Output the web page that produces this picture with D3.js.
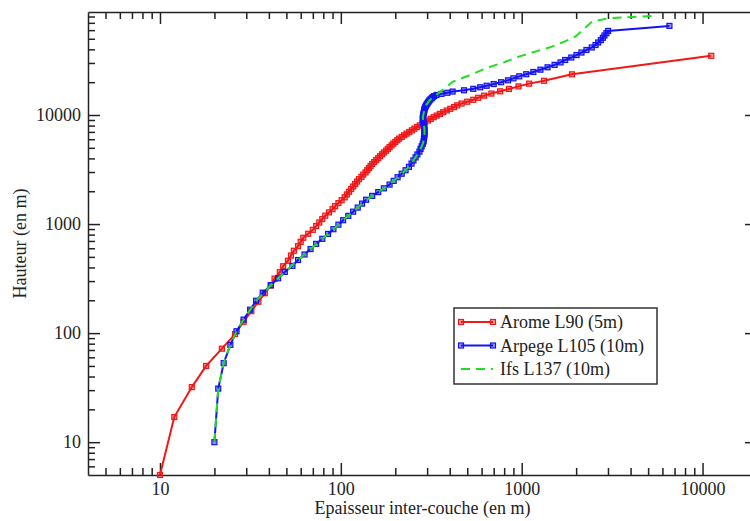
<!DOCTYPE html>
<meta charset="utf-8">
<style>
body{ margin:0; background:#fff; }
svg text{ font-family:"Liberation Serif","DejaVu Serif",serif; font-size:18px; fill:#222; }
.axis path, .axis line{ stroke:#222; stroke-width:1.5; }
</style>
<body>
<script src="https://d3js.org/d3.v7.min.js"></script>
<script>
// Arome L90 (5m): layer thickness (m) vs height (m)
const aromeThick = [10,12,15,18,22,26,29,32,35,38,41,43,46,48,51,53,55,58,60,62,
    66,70,73,76,79,82,86,90,93,97,101,105,108,111,114,117,120,123,126,130,
    133,137,140,143,146,149,153,157,161,165,169,173,178,182,186,191,195,200,205,210,
    217,224,231,239,247,255,264,273,282,292,303,314,326,339,353,368,385,403,423,440,
    465,500,540,575,620,680,760,850,960,1100,1330,1897,11170];
const aromeHeight = [5,17,32,50,72,98,127,159,194,232,273,316,362,410,461,514,569,627,687,749,
    814,885,958,1033,1112,1194,1279,1368,1460,1556,1656,1760,1868,1979,2093,2210,2330,2453,2579,2708,
    2841,2977,3117,3260,3406,3555,3708,3865,4026,4191,4360,4533,4710,4892,5078,5268,5463,5663,5868,6078,
    6295,6519,6750,6989,7236,7491,7755,8028,8310,8602,8905,9219,9545,9884,10237,10605,10990,11393,11816,12262,
    12735,13240,13785,14380,15040,15720,16480,17330,18290,19390,20600,23600,34900];

// Arpege L105 (10m)
const arpegeThick = [20,21,22.5,24.5,26.5,29,31.5,34,37,41,45,49,54,58,63,68,73,79,85,91,
    97,103,110,117,124,131,138,149,161,173,186,196,206,217,228,238,246,252,259,265,
    272,276,280,284,287,288,289,290,290,290,290,289,288,287,286,285,284,284,285,286,
    287,288,289,290,291,293,295,297,300,303,306,309,313,318,322,328,338,360,388,415,
    480,540,590,640,700,770,840,900,970,1060,1160,1270,1390,1520,1640,1740,1880,2010,2140,2280,
    2440,2560,2650,2740,2810,2870,2940,3006,6560];
const arpegeHeight = [10,31,53,78,104,133,164,198,235,275,318,364,414,468,526,590,658,732,812,897,
    988,1085,1189,1299,1416,1540,1671,1812,1963,2126,2301,2489,2687,2895,3115,3345,3585,3833,4087,4348,
    4615,4890,5168,5450,5735,6023,6312,6602,6893,7184,7475,7765,8055,8343,8630,8916,9201,9485,9770,10055,
    10340,10630,10920,11210,11500,11795,12090,12390,12690,12995,13300,13610,13925,14245,14570,14905,15250,15620,16000,16400,
    16850,17380,17950,18540,19230,19980,20800,21680,22620,23660,24800,26040,27380,28820,30350,31950,33650,35470,37400,39450,
    41600,43850,46200,48600,51050,53600,56250,59000,65600];

// Ifs L137 (10m), dashed line
const ifsThick = [20,21,22.5,24.5,26.5,29,34,41,49,58,68,79,91,103,117,131,149,173,196,217,
    238,252,265,276,284,288,290,290,289,287,285,284,286,288,290,293,297,303,309,318,
    332,375,415,520,634,800,962,1200,1472,1720,1982,2449,3000,5300];
const ifsHeight = [10,31,53,78,104,133,198,275,364,468,590,732,897,1085,1299,1540,1812,2126,2489,2895,
    3345,3833,4348,4890,5450,6023,6602,7184,7765,8343,8916,9485,10055,10630,11210,11795,12390,12995,13610,14245,
    15000,17500,20170,23300,26790,30500,34270,38300,42350,47000,52270,71760,77000,81000];

const xMajor = [10, 100, 1000, 10000];
const xMinor = [5,6,7,8,9, 20,30,40,50,60,70,80,90, 200,300,400,500,600,700,800,900,
    2000,3000,4000,5000,6000,7000,8000,9000];
const yMajor = [10, 100, 1000, 10000];
const yMinor = [6,7,8,9, 20,30,40,50,60,70,80,90, 200,300,400,500,600,700,800,900,
    2000,3000,4000,5000,6000,7000,8000,9000, 20000,30000,40000,50000,60000,70000,80000];

const seriesNames = ["Arome L90 (5m)", "Arpege L105 (10m)", "Ifs L137 (10m)"];
const seriesColors = ["#f01818", "#1414f0", "#22dd22"];

const width = 750, height = 521;
const pLeft = 88, pRight = 757, pTop = 12, pBottom = 475;

const x = d3.scaleLog().domain([4, 20000]).range([pLeft, pRight]);
const y = d3.scaleLog().domain([5, 88000]).range([pBottom, pTop]);

const svg = d3.select("body").append("svg")
    .attr("width", width)
    .attr("height", height);

// axes: major + minor ticks on all four sides, pointing inward
function addAxis(axis, tr, vals, size, labels){
    const g = svg.append("g")
        .attr("class", "axis")
        .attr("transform", tr)
        .call(axis.tickValues(vals).tickSize(size).tickSizeOuter(0)
            .tickPadding(7)
            .tickFormat(labels ? d3.format("d") : ""));
    g.selectAll("text").style("font-size", "18px").attr("fill", "#222");
    return g;
}
addAxis(d3.axisBottom(x), `translate(0,${pBottom})`, xMajor, -12, true);
addAxis(d3.axisBottom(x), `translate(0,${pBottom})`, xMinor, -7, false).select(".domain").remove();
addAxis(d3.axisTop(x), `translate(0,${pTop})`, xMajor, -12, false);
addAxis(d3.axisTop(x), `translate(0,${pTop})`, xMinor, -7, false).select(".domain").remove();
addAxis(d3.axisLeft(y), `translate(${pLeft},0)`, yMajor, -12, true);
addAxis(d3.axisLeft(y), `translate(${pLeft},0)`, yMinor, -7, false).select(".domain").remove();
addAxis(d3.axisRight(y), `translate(${pRight},0)`, yMajor, -12, false);
addAxis(d3.axisRight(y), `translate(${pRight},0)`, yMinor, -7, false).select(".domain").remove();

// axis titles
svg.append("text")
    .attr("x", (pLeft + pRight) / 2)
    .attr("y", 514)
    .attr("text-anchor", "middle")
    .text("Epaisseur inter-couche (en m)");
svg.append("text")
    .attr("transform", `translate(26,${(pTop + pBottom) / 2}) rotate(-90)`)
    .attr("text-anchor", "middle")
    .text("Hauteur (en m)");

const line = d3.line()
    .x(d => x(d[0]))
    .y(d => y(d[1]));

const series = [
    { data: d3.zip(aromeThick, aromeHeight), marks: true, dash: null },
    { data: d3.zip(arpegeThick, arpegeHeight), marks: true, dash: null },
    { data: d3.zip(ifsThick, ifsHeight), marks: false, dash: "9,6" }
];

function marker(sel, color){
    sel.attr("width", 5)
        .attr("height", 5)
        .attr("fill", color)
        .attr("fill-opacity", 0.45)
        .attr("stroke", color)
        .attr("stroke-width", 1.2);
}

series.forEach((s, i) => {
    svg.append("path")
        .datum(s.data)
        .attr("d", line)
        .attr("fill", "none")
        .attr("stroke", seriesColors[i])
        .attr("stroke-width", 2)
        .attr("stroke-dasharray", s.dash);
    if (s.marks) {
        svg.append("g")
            .selectAll("rect")
            .data(s.data)
            .join("rect")
            .attr("x", d => x(d[0]) - 2.5)
            .attr("y", d => y(d[1]) - 2.5)
            .call(marker, seriesColors[i]);
    }
});

// legend
const lg = svg.append("g");
lg.append("rect")
    .attr("x", 454).attr("y", 308)
    .attr("width", 203).attr("height", 76)
    .attr("fill", "white")
    .attr("stroke", "#333")
    .attr("stroke-width", 1.5);
seriesNames.forEach((name, i) => {
    const ry = 322 + i * 23.5;
    lg.append("line")
        .attr("x1", 461).attr("x2", 493)
        .attr("y1", ry).attr("y2", ry)
        .attr("stroke", seriesColors[i])
        .attr("stroke-width", 2)
        .attr("stroke-dasharray", series[i].dash);
    if (series[i].marks) {
        [461, 493].forEach(mx => {
            lg.append("rect")
                .attr("x", mx - 2.5).attr("y", ry - 2.5)
                .call(marker, seriesColors[i]);
        });
    }
    lg.append("text")
        .attr("x", 500)
        .attr("y", ry + 6)
        .text(name);
});
</script>
</body>
